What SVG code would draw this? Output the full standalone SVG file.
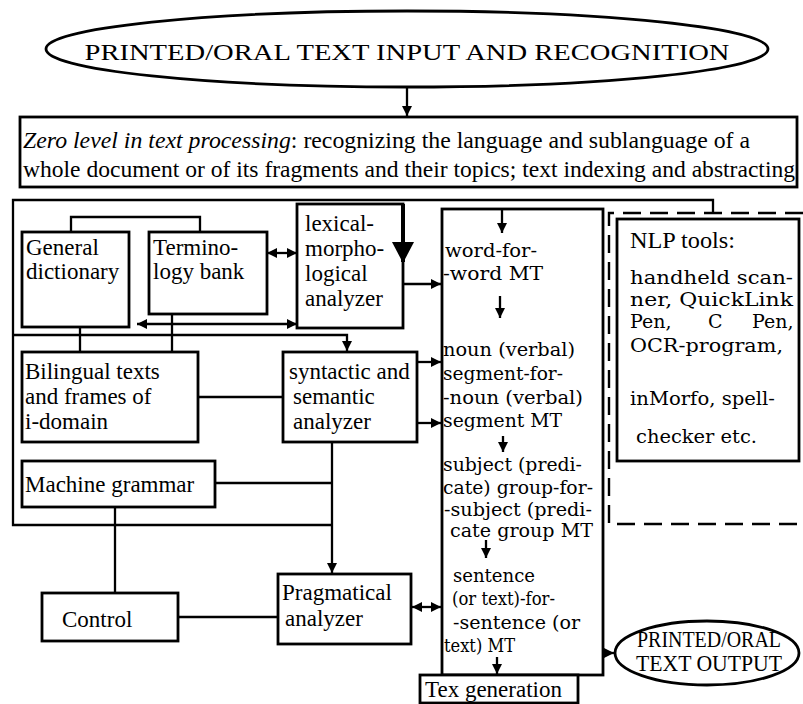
<svg xmlns="http://www.w3.org/2000/svg" width="803" height="704" viewBox="0 0 803 704">
<style>
.box{fill:#fff;stroke:#000;stroke-width:2.8}
.ln{fill:none;stroke:#000;stroke-width:2.3}
.t{font-family:"Liberation Serif","Times New Roman",serif;font-size:23px;fill:#000}
.c{font-family:"DejaVu Serif","Liberation Serif",serif;font-size:19px;fill:#000}
.dash{fill:none;stroke:#000;stroke-width:2.4;stroke-dasharray:18 9}
</style>
<defs>
<marker id="ah" viewBox="0 0 10 10" refX="10" refY="5" markerWidth="11" markerHeight="10" markerUnits="userSpaceOnUse" orient="auto-start-reverse">
<path d="M0,0 L10,5 L0,10 z" fill="#000"/>
</marker>
</defs>
<rect width="803" height="704" fill="#fff"/>

<g id="input">
<ellipse class="box" cx="407" cy="49" rx="361" ry="38"/>
<text class="t" x="407" y="60" text-anchor="middle" font-size="30" textLength="645" lengthAdjust="spacingAndGlyphs">PRINTED/ORAL TEXT INPUT AND RECOGNITION</text>
</g>

<g id="zero-level">
<rect class="box" x="20" y="117" width="777" height="70"/>
<text class="t" x="23" y="148" font-size="24" textLength="727" lengthAdjust="spacingAndGlyphs"><tspan font-style="italic">Zero level in text processing</tspan>: recognizing the language and sublanguage of a</text>
<text class="t" x="23" y="177" font-size="24" textLength="772" lengthAdjust="spacingAndGlyphs">whole document or of its fragments and their topics; text indexing and abstracting</text>
</g>

<g id="frames">
<path class="ln" d="M332 525 H13 V200 H713 V213" stroke-width="2.8"/>
<path class="dash" d="M803 213 H609 V524 H803"/>
</g>

<g id="general-dictionary">
<rect class="box" x="22" y="232" width="107" height="95"/>
<text class="t" x="26" y="255">General</text>
<text class="t" x="26" y="279">dictionary</text>
</g>

<g id="terminology-bank">
<rect class="box" x="149" y="232" width="118" height="82"/>
<text class="t" x="153" y="255">Termino-</text>
<text class="t" x="153" y="279">logy bank</text>
</g>

<g id="lexical-analyzer">
<rect class="box" x="297" y="204" width="106" height="124"/>
<text class="t" x="305" y="231">lexical-</text>
<text class="t" x="305" y="256">morpho-</text>
<text class="t" x="305" y="281">logical</text>
<text class="t" x="305" y="306">analyzer</text>
<path d="M403 204 V262" stroke="#000" stroke-width="4"/>
<path d="M392 242 H414 L403 263 z" fill="#000"/>
</g>

<g id="bilingual-texts">
<rect class="box" x="22" y="352" width="176" height="90"/>
<text class="t" x="25" y="379">Bilingual texts</text>
<text class="t" x="25" y="404">and frames of</text>
<text class="t" x="25" y="429">i-domain</text>
</g>

<g id="syntactic-analyzer">
<rect class="box" x="283" y="352" width="134" height="90"/>
<text class="t" x="289" y="379">syntactic and</text>
<text class="t" x="293" y="404">semantic</text>
<text class="t" x="293" y="429">analyzer</text>
</g>

<g id="machine-grammar">
<rect class="box" x="22" y="461" width="193" height="46"/>
<text class="t" x="25" y="492">Machine grammar</text>
</g>

<g id="control">
<rect class="box" x="42" y="593" width="136" height="48"/>
<text class="t" x="62" y="627">Control</text>
</g>

<g id="pragmatical-analyzer">
<rect class="box" x="278" y="574" width="133" height="70"/>
<text class="t" x="282" y="600">Pragmatical</text>
<text class="t" x="285" y="626">analyzer</text>
</g>

<g id="mt-levels">
<rect class="box" x="442" y="209" width="161" height="466"/>
<text class="c" x="445" y="257" textLength="92" lengthAdjust="spacingAndGlyphs">word-for-</text>
<text class="c" x="443" y="280" textLength="100" lengthAdjust="spacingAndGlyphs">-word MT</text>
<text class="c" x="443" y="356" textLength="132" lengthAdjust="spacingAndGlyphs">noun (verbal)</text>
<text class="c" x="443" y="380" textLength="120" lengthAdjust="spacingAndGlyphs">segment-for-</text>
<text class="c" x="443" y="404" textLength="140" lengthAdjust="spacingAndGlyphs">-noun (verbal)</text>
<text class="c" x="443" y="427" textLength="119" lengthAdjust="spacingAndGlyphs">segment MT</text>
<text class="c" x="443" y="471" textLength="139" lengthAdjust="spacingAndGlyphs">subject (predi-</text>
<text class="c" x="443" y="494" textLength="150" lengthAdjust="spacingAndGlyphs">cate) group-for-</text>
<text class="c" x="444" y="516" textLength="148" lengthAdjust="spacingAndGlyphs">-subject (predi-</text>
<text class="c" x="450" y="537" textLength="143" lengthAdjust="spacingAndGlyphs">cate group MT</text>
<text class="c" x="453" y="582" textLength="82" lengthAdjust="spacingAndGlyphs">sentence</text>
<text class="c" x="452" y="605" textLength="103" lengthAdjust="spacingAndGlyphs">(or text)-for-</text>
<text class="c" x="453" y="629" textLength="127" lengthAdjust="spacingAndGlyphs">-sentence  (or</text>
<text class="c" x="444" y="652" textLength="71" lengthAdjust="spacingAndGlyphs">text) MT</text>
</g>

<g id="tex-generation">
<rect class="box" x="420" y="675" width="158" height="28"/>
<text class="t" x="425" y="697" font-size="24">Tex generation</text>
</g>

<g id="nlp-tools">
<rect class="box" x="617" y="219" width="182" height="242"/>
<text class="t" x="630" y="248" font-size="21" textLength="105" lengthAdjust="spacingAndGlyphs">NLP tools:</text>
<text class="c" x="630" y="284" textLength="163" lengthAdjust="spacingAndGlyphs">handheld scan-</text>
<text class="c" x="630" y="306" textLength="163" lengthAdjust="spacingAndGlyphs">ner, QuickLink</text>
<text class="c" x="630" y="328">Pen,</text>
<text class="c" x="708" y="328">C</text>
<text class="c" x="752" y="328">Pen,</text>
<text class="c" x="630" y="352" textLength="153" lengthAdjust="spacingAndGlyphs">OCR-program,</text>
<text class="c" x="630" y="405" textLength="145" lengthAdjust="spacingAndGlyphs">inMorfo, spell-</text>
<text class="c" x="636" y="443" textLength="121" lengthAdjust="spacingAndGlyphs">checker  etc.</text>
</g>

<g id="output">
<ellipse class="box" cx="707" cy="653" rx="92" ry="32"/>
<text class="t" x="709" y="647" text-anchor="middle" font-size="19" textLength="144" lengthAdjust="spacingAndGlyphs">PRINTED/ORAL</text>
<text class="t" x="709" y="671" text-anchor="middle" font-size="19" textLength="146" lengthAdjust="spacingAndGlyphs">TEXT  OUTPUT</text>
</g>

<g id="connectors">
<path class="ln" d="M407 87 V116" marker-end="url(#ah)"/>
<path class="ln" d="M71 232 V217 H200 V232"/>
<path class="ln" d="M267 253 H297" marker-start="url(#ah)" marker-end="url(#ah)"/>
<path class="ln" d="M137 324 H297" marker-start="url(#ah)" marker-end="url(#ah)"/>
<path class="ln" d="M13 335 H347 V351" marker-end="url(#ah)"/>
<path class="ln" d="M80 327 V352"/>
<path class="ln" d="M172 314 V352"/>
<path class="ln" d="M403 284 H441" marker-end="url(#ah)"/>
<path class="ln" d="M198 397 H283"/>
<path class="ln" d="M417 362 H441" marker-end="url(#ah)"/>
<path class="ln" d="M417 423 H441" marker-end="url(#ah)"/>
<path class="ln" d="M332 442 V573" marker-end="url(#ah)"/>
<path class="ln" d="M215 483 H332"/>
<path class="ln" d="M115 507 V593"/>
<path class="ln" d="M178 617 H278"/>
<path class="ln" d="M412 607 H441" marker-start="url(#ah)" marker-end="url(#ah)"/>
<path class="ln" d="M502 210 V233" marker-end="url(#ah)"/>
<path class="ln" d="M500 296 V318" marker-end="url(#ah)"/>
<path class="ln" d="M503 436 V452" marker-end="url(#ah)"/>
<path class="ln" d="M486 540 V558" marker-end="url(#ah)"/>
<path class="ln" d="M497 657 V674" marker-end="url(#ah)"/>
<path class="ln" d="M603 653 H614" marker-end="url(#ah)"/>
</g>
</svg>
